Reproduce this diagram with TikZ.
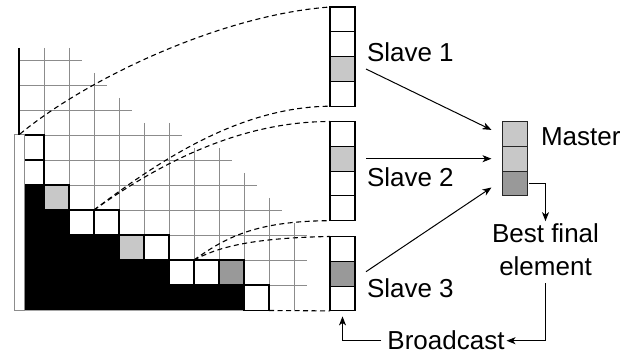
\documentclass[tikz,border=0pt]{standalone}
\usepackage{fontspec}
\setmainfont{Liberation Sans}
\usetikzlibrary{arrows.meta,calc}
\definecolor{lgray}{HTML}{C8C8C8}
\definecolor{dgray}{HTML}{999999}
\definecolor{gridc}{HTML}{8C8C8C}
\begin{document}
\begin{tikzpicture}[x=1pt,y=-1pt,
  gridline/.style={draw=gridc,line width=0.9pt},
  pivot/.style={draw=black,line width=1.2pt},
  cellbox/.style={draw=black,line width=1.1pt,minimum width=25pt,minimum height=24.8pt,inner sep=0pt,outer sep=0pt,anchor=north west},
  mcell/.style={cellbox,draw=black!85},
  lbl/.style={font=\fontsize{26}{33}\selectfont,inner sep=0pt,outer sep=0pt},
  link/.style={dash pattern=on 5pt off 3.5pt,line width=1.1pt},
  arr/.style={-{Stealth[length=9pt,width=7pt,inset=2.5pt]},line width=1pt}
]
\useasboundingbox (0,0) rectangle (638,358);

% grid
\foreach \y/\xe in {60/82,85/107,110/132}
  \draw[gridline] (19,\y) -- (\xe,\y);
\foreach \y/\xe in {135/182,160/232,185/257,210/282,235/307,260/307,285/307}
  \draw[gridline] (24,\y) -- (\xe,\y);
\foreach \x/\ys in {44/48,69/48,94/73,119/98,144/123,169/123,194/148,219/148,244/173,269/198,294/223}
  \draw[gridline] (\x,\ys) -- (\x,310.5);

% eliminated (black) part
\fill[black] (24,185) -| (44,210) -| (69,235) -| (119,260) -| (169,285) -| (244,310.5) -- (24,310.5) -- cycle;

% candidate cells
\filldraw[fill=white,pivot] (24,135) rectangle (44,160);
\filldraw[fill=white,pivot] (24,160) rectangle (44,185);
\filldraw[fill=lgray,pivot] (44,185) rectangle (69,210);
\filldraw[fill=white,pivot] (69,210) rectangle (94,235);
\filldraw[fill=white,pivot] (94,210) rectangle (119,235);
\filldraw[fill=lgray,pivot] (119,235) rectangle (144,260);
\filldraw[fill=white,pivot] (144,235) rectangle (169,260);
\filldraw[fill=white,pivot] (169,260) rectangle (194,285);
\filldraw[fill=white,pivot] (194,260) rectangle (219,285);
\filldraw[fill=dgray,pivot] (219,260) rectangle (244,285);
\filldraw[fill=white,pivot] (244,285) rectangle (269,310.5);

% narrow column and axis
\filldraw[fill=white,draw=gridc,line width=1pt] (14,135) rectangle (24,311);
\draw[line width=1.5pt] (19,48) -- (19,135);

% slaves
\node[cellbox,fill=white] (s1a) at (330,7) {};
\node[cellbox,fill=white] (s1b) at (330,31.8) {};
\node[cellbox,fill=lgray] (s1c) at (330,56.6) {};
\node[cellbox,fill=white] (s1d) at (330,81.4) {};

\node[cellbox,fill=white] (s2a) at (330,121.5) {};
\node[cellbox,fill=lgray] (s2b) at (330,146.3) {};
\node[cellbox,fill=white] (s2c) at (330,171.1) {};
\node[cellbox,fill=white] (s2d) at (330,195.9) {};

\node[cellbox,fill=white] (s3a) at (330,236.5) {};
\node[cellbox,fill=dgray] (s3b) at (330,261.3) {};
\node[cellbox,fill=white] (s3c) at (330,286.1) {};

% master
\node[mcell,fill=lgray] (m1) at (502.5,121.5) {};
\node[mcell,fill=lgray] (m2) at (502.5,146.3) {};
\node[mcell,fill=dgray] (m3) at (502.5,171.1) {};

% start points of the links
\coordinate (c1) at (20,134);
\coordinate (c2) at (94,210);
\coordinate (c3) at (194,260);
\coordinate (c4) at (269,310.5);

\draw[link] (c1) .. controls (85,80) and (220,15) .. (s1a.north west);
\draw[link] (c2) .. controls (160,160) and (240,107) .. (s1d.south west);
\draw[link] (c2) .. controls (160,163) and (240,121.5) .. (s2a.north west);
\draw[link] (c3) .. controls (225,238) and (255,221) .. (s2d.south west);
\draw[link] (c3) .. controls (215,249) and (245,238) .. (s3a.north west);
\draw[link] (c4) -- (s3c.south west);

% labels
\node[lbl,anchor=base west] (l1) at (367,62) {Slave 1};
\node[lbl,anchor=base west] (l2) at (367,187) {Slave 2};
\node[lbl,anchor=base west] (l3) at (367,298) {Slave 3};
\node[lbl,anchor=base west] (lm) at (541,145.5) {Master};
\node[lbl,align=center,anchor=base] (bfe) at (545.5,276) {Best final\\element};
\node[lbl,anchor=base] (bc) at (446,350) {Broadcast};

% arrows
\draw[arr] ([xshift=11pt]s1c.east) -- ([xshift=-11pt,yshift=4pt]m1.west);
\draw[arr] ([xshift=11pt]s2b.east) -- ([xshift=-11pt]m2.west);
\draw[arr] ([xshift=11pt,yshift=2pt]s3b.east) -- ([xshift=-11pt,yshift=-4pt]m3.west);
\draw[arr] ([xshift=1.5pt]m3.east) -| ([yshift=3pt]bfe.north);
\draw[arr] ([yshift=-7pt]bfe.south) |- ([xshift=2pt]bc.east);
\draw[arr] ([xshift=-6pt]bc.west) -| ([yshift=-5.5pt]s3c.south);
\end{tikzpicture}
\end{document}
